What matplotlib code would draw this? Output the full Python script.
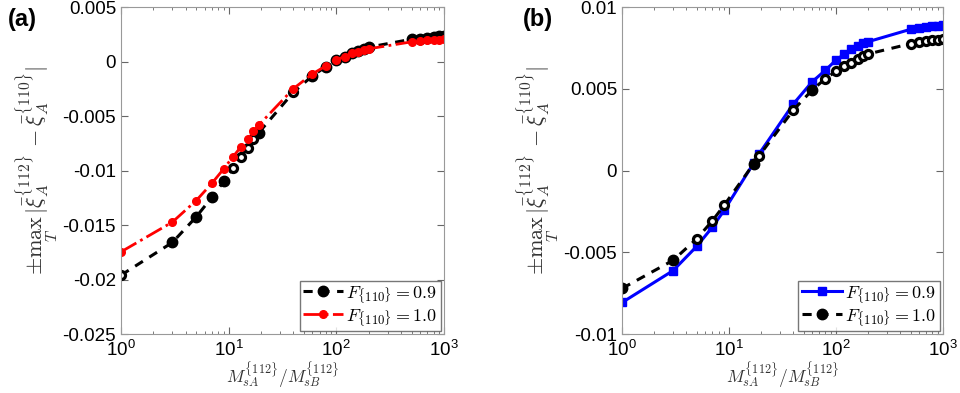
import matplotlib
matplotlib.use("Agg")
import matplotlib.pyplot as plt
import numpy as np

plt.rcParams['font.family'] = ['Liberation Sans', 'DejaVu Sans']
plt.rcParams['mathtext.fontset'] = 'cm'
plt.rcParams['axes.unicode_minus'] = False

# panel (a)
x_a = [1, 3, 5, 7, 9, 11, 13, 15, 17, 19, 40, 60, 80, 100, 120, 140, 160, 180, 200,
       500, 600, 700, 800, 900, 1000]
y_a_09 = [-0.0196, -0.0166, -0.01425, -0.01244, -0.0110, -0.00978, -0.00877, -0.00789,
          -0.00712, -0.00654, -0.00281, -0.00131, -0.00046, 0.00016, 0.00043, 0.00077,
          0.00095, 0.00117, 0.00132, 0.00205, 0.00211, 0.0022, 0.0023, 0.00232, 0.00235]
y_a_10 = [-0.01746, -0.01473, -0.01275, -0.01116, -0.00984, -0.00872, -0.00783, -0.00706,
          -0.00639, -0.00584, -0.00248, -0.00113, -0.0004, 0.00018, 0.00046, 0.00077,
          0.00092, 0.00107, 0.00117, 0.00181, 0.0019, 0.00196, 0.00199, 0.00202, 0.00208]
hollow_a = [0, 5, 6, 7, 8, 10]

# panel (b)
x_b = [1, 3, 5, 7, 9, 17, 19, 40, 60, 80, 100, 120, 140, 160, 180, 200,
       500, 600, 700, 800, 900, 1000]
y_b_09 = [-0.00807, -0.00612, -0.00463, -0.00346, -0.00244, 0.00045, 0.00099, 0.00407,
          0.00543, 0.00614, 0.00675, 0.00712, 0.00742, 0.00762, 0.00779, 0.00788,
          0.00864, 0.00874, 0.0088, 0.00884, 0.00886, 0.00888]
y_b_10 = [-0.00721, -0.00549, -0.00417, -0.00307, -0.00213, 0.00041, 0.00087, 0.0037,
          0.00492, 0.00563, 0.00606, 0.00638, 0.0066, 0.00685, 0.00701, 0.00713,
          0.00776, 0.00785, 0.00793, 0.00797, 0.00799, 0.00803]
hollow_b = [2, 3, 4, 6, 7, 9, 10, 11, 12, 13, 14, 15, 16, 17, 18, 19, 20, 21]

yticks_a = [0.005, 0, -0.005, -0.01, -0.015, -0.02, -0.025]
ytick_labels_a = ['0.005', '0', '-0.005', '-0.01', '-0.015', '-0.02', '-0.025']
yticks_b = [0.01, 0.005, 0, -0.005, -0.01]
ytick_labels_b = ['0.01', '0.005', '0', '-0.005', '-0.01']

ylab = r'$\pm\max_{T}\,|\bar{\xi}_A^{\{112\}}-\bar{\xi}_A^{\{110\}}|$'
xlab = r'$M_{sA}^{\{112\}}/M_{sB}^{\{112\}}$'
spine_col = '#999999'

fig = plt.figure(figsize=(9.6, 3.93), dpi=100)
ax1 = fig.add_axes([0.126, 0.150, 0.3365, 0.832])
ax2 = fig.add_axes([0.648, 0.150, 0.334, 0.832])


def black_series(ax, x, y, hollow, label):
    filled = [i for i in range(len(x)) if i not in hollow]
    ax.plot(x, y, color='k', ls='--', lw=2.2, marker='o', ms=7.5, mfc='k', mec='k',
            markevery=filled, label=label, dashes=(3, 2.5))
    ax.plot([x[i] for i in hollow], [y[i] for i in hollow], ls='none', marker='o',
            ms=5.8, mfc='white', mec='k', mew=2.3)


def style(ax, ylim, yticks, ylabels):
    ax.set_xscale('log')
    ax.set_xlim(1, 1000)
    ax.set_ylim(*ylim)
    ax.set_yticks(yticks)
    ax.set_yticklabels(ylabels)
    ax.tick_params(which='both', direction='in', top=True, right=True,
                   labelsize=13.5, color='#666666')
    ax.tick_params(which='major', length=5)
    ax.tick_params(which='minor', length=2.5)
    ax.tick_params(axis='x', pad=4)
    for s in ax.spines.values():
        s.set_color(spine_col)
    ax.set_xlabel(xlab, fontsize=12.5, color='#333333', labelpad=0)
    ax.set_ylabel(ylab, fontsize=16, color='#333333', labelpad=2)


# (a)
black_series(ax1, x_a, y_a_09, hollow_a, r'$F_{\{110\}}=0.9$')
ax1.plot(x_a, y_a_10, color='red', ls='-.', lw=2, marker='o', ms=5.5,
         label=r'$F_{\{110\}}=1.0$')
style(ax1, (-0.025, 0.005), yticks_a, ytick_labels_a)
leg = ax1.legend(loc='lower right', fontsize=13, frameon=True, fancybox=False,
                 borderaxespad=0.15, handlelength=2.2, handletextpad=0.2,
                 borderpad=0.2, labelspacing=0.1)
leg.get_frame().set_edgecolor('#555555')
leg.get_frame().set_linewidth(1)

# (b)
ax2.plot(x_b, y_b_09, color='blue', ls='-', lw=2.2, marker='s', ms=6,
         label=r'$F_{\{110\}}=0.9$')
black_series(ax2, x_b, y_b_10, hollow_b, r'$F_{\{110\}}=1.0$')
style(ax2, (-0.01, 0.01), yticks_b, ytick_labels_b)
leg = ax2.legend(loc='lower right', fontsize=13, frameon=True, fancybox=False,
                 borderaxespad=0.15, handlelength=2.2, handletextpad=0.2,
                 borderpad=0.2, labelspacing=0.1)
leg.get_frame().set_edgecolor('#555555')
leg.get_frame().set_linewidth(1)

fig.text(0.008, 0.935, '(a)', fontsize=17, fontweight='bold')
fig.text(0.545, 0.935, '(b)', fontsize=17, fontweight='bold')

fig.savefig('out.png', dpi=100)
